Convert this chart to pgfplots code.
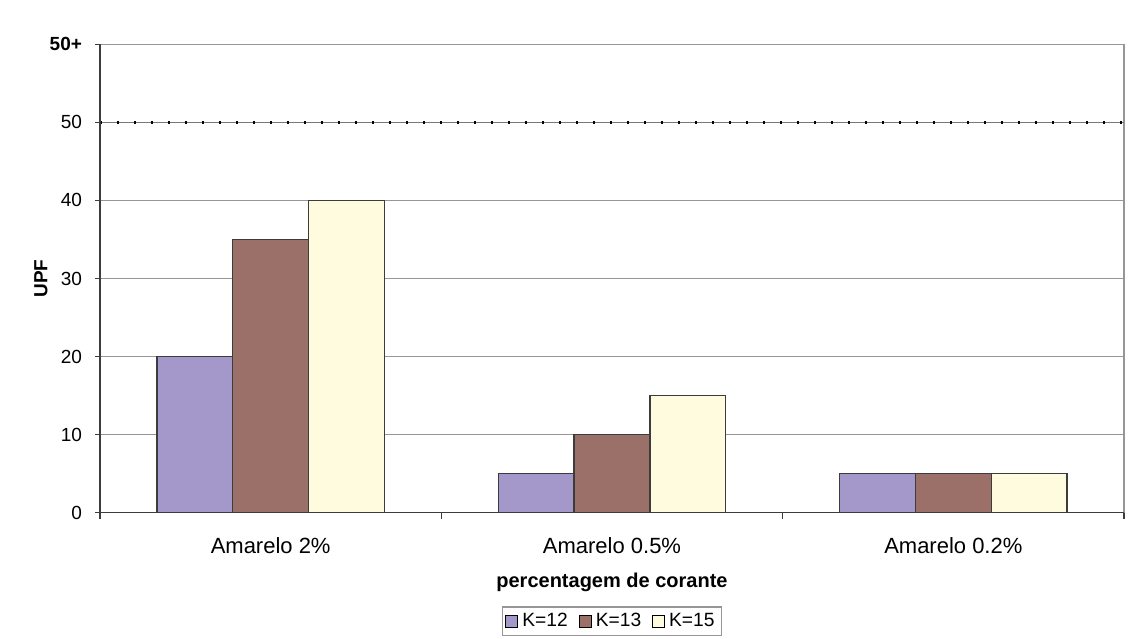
\documentclass[border=0pt]{standalone}
\usepackage{pgfplots}
\pgfplotsset{compat=1.18}
\usepackage{fontspec}
\setmainfont{Liberation Sans}

\definecolor{kdoze}{RGB}{163,152,201}
\definecolor{ktreze}{RGB}{155,112,105}
\definecolor{kquinze}{RGB}{254,251,222}
\definecolor{gridgray}{RGB}{150,150,150}
\definecolor{axisdark}{RGB}{60,60,60}

\begin{document}
\begin{tikzpicture}
\begin{axis}[
  name=ax,
  scale only axis,
  width=512pt, height=234.2pt,
  xmin=-0.5, xmax=2.5,
  ymin=0, ymax=60,
  clip=false,
  axis line style={draw=gridgray, line width=0.7pt},
  xtick={0,1,2},
  xticklabels={Amarelo 2\%, Amarelo 0.5\%, Amarelo 0.2\%},
  xtick style={draw=none},
  xticklabel style={font=\fontsize{11}{13}\selectfont, anchor=base, yshift=-18pt},
  ytick={0,10,20,30,40,50,60},
  yticklabels={0,10,20,30,40,50,\textbf{50+}},
  ytick pos=left,
  ytick style={draw=axisdark, line width=0.6pt},
  tick align=outside,
  major tick length=2.5pt,
  yticklabel style={font=\fontsize{9.5}{11}\selectfont, anchor=east, xshift=-3pt},
  ymajorgrids,
  grid style={draw=gridgray, line width=0.7pt},
  legend style={
    at={(0.5,-0.2)}, anchor=north,
    draw=gridgray, line width=0.6pt,
    font=\fontsize{9.6}{10.5}\selectfont,
    inner xsep=1.5pt, inner ysep=1pt,
    /tikz/every even column/.append style={column sep=3.5pt},
  },
  legend columns=3,
  legend cell align=left,
  legend image code/.code={
    \draw[#1, draw=black, line width=0.5pt] (0pt,-3pt) rectangle (6pt,3pt);
  },
]
% reference level at 50
\addplot[sharp plot, forget plot, draw=gridgray!80!black, line width=0.5pt]
  coordinates {(-0.5,50) (2.5,50)};
\addplot[sharp plot, forget plot, draw=black, line width=1.2pt,
  dash pattern=on 1.2pt off 7.3pt]
  coordinates {(-0.5,50) (2.5,50)};

\addplot[ybar, bar width=37.9pt, bar shift=-37.9pt,
  fill=kdoze, draw=axisdark, line width=0.7pt]
  coordinates {(0,20) (1,5) (2,5)};
\addlegendentry{K=12}
\addplot[ybar, bar width=37.9pt, bar shift=0pt,
  fill=ktreze, draw=axisdark, line width=0.7pt]
  coordinates {(0,35) (1,10) (2,5)};
\addlegendentry{K=13}
\addplot[ybar, bar width=37.9pt, bar shift=37.9pt,
  fill=kquinze, draw=axisdark, line width=0.7pt]
  coordinates {(0,40) (1,15) (2,5)};
\addlegendentry{K=15}

% dark left and bottom axis lines with category separators
\draw[axisdark, line width=0.7pt] (rel axis cs:0,1) -- (rel axis cs:0,0) -- (rel axis cs:1,0);
\draw[axisdark, line width=0.6pt] (axis cs:-0.5,0) -- ([yshift=-3pt]axis cs:-0.5,0);
\draw[axisdark, line width=0.6pt] (axis cs:0.5,0) -- ([yshift=-3pt]axis cs:0.5,0);
\draw[axisdark, line width=0.6pt] (axis cs:1.5,0) -- ([yshift=-3pt]axis cs:1.5,0);
\draw[axisdark, line width=0.6pt] (axis cs:2.5,0) -- ([yshift=-3pt]axis cs:2.5,0);

\node[font=\bfseries\fontsize{9.5}{11}\selectfont, rotate=90, anchor=center]
  at ([xshift=-29.5pt]rel axis cs:0,0.5) {UPF};
\node[font=\bfseries\fontsize{10}{12}\selectfont, anchor=base]
  at ([yshift=-37.5pt]rel axis cs:0.5,0) {percentagem de corante};
\end{axis}
\pgfresetboundingbox
\path[use as bounding box] ([shift={(-50pt,-63.15pt)}]ax.south west)
  rectangle ([shift={(3pt,22.15pt)}]ax.north east);
\end{tikzpicture}
\end{document}
